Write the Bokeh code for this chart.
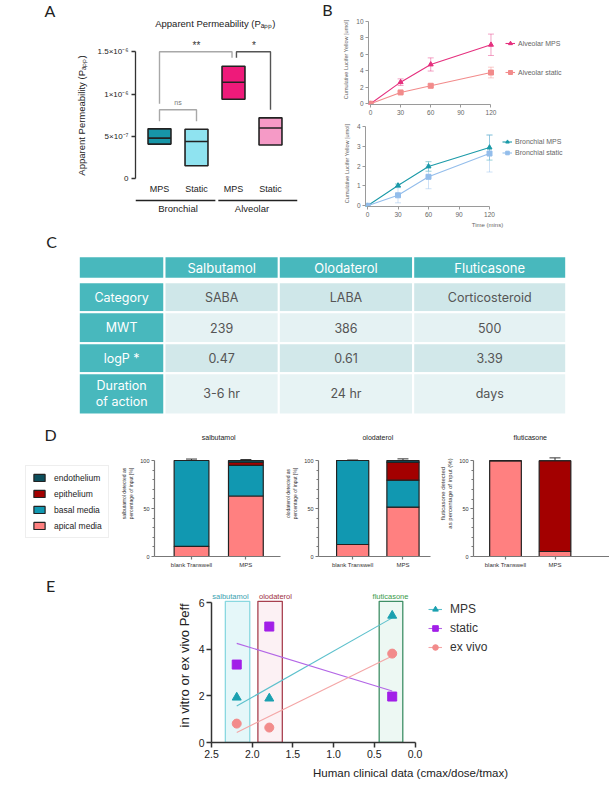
import numpy as np
from bokeh.plotting import figure
from bokeh.models import (Range1d, ColumnDataSource, FixedTicker, Legend,
                          LegendItem, Whisker, TeeHead, PrintfTickFormatter)
from bokeh.layouts import column, row
from bokeh.embed import file_html
from bokeh.resources import INLINE
from bokeh.core.properties import value

FONT = "Liberation Sans"
LETTER_FONT = "Lato"
TABLE_FONT = "Inter"

# ---------------- data ----------------
# A: apparent permeability, floating boxes (min / median / max)
a_condition = ["MPS", "Static", "MPS", "Static"]
a_groups = ["Bronchial", "Alveolar"]
a_low = [4.1e-7, 1.55e-7, 9.4e-7, 4.0e-7]
a_median = [4.8e-7, 4.4e-7, 11.4e-7, 6.0e-7]
a_high = [5.9e-7, 5.85e-7, 13.3e-7, 7.2e-7]
a_yticks = [0, 5e-7, 1e-6, 1.5e-6]
a_ytick_labels = ["0", "5×10⁻⁷", "1×10⁻⁶", "1.5×10⁻⁶"]

# B: cumulative Lucifer Yellow
b_time = [0, 30, 60, 120]
b_xticks = [0, 30, 60, 90, 120]
b_alv_mps = [0, 2.63, 4.78, 7.17]
b_alv_mps_err = [0.05, 0.4, 0.8, 1.3]
b_alv_static = [0, 1.38, 2.19, 3.8]
b_alv_static_err = [0.05, 0.1, 0.15, 0.65]
b_bro_mps = [0, 1.02, 1.98, 2.93]
b_bro_mps_err = [0.03, 0.08, 0.24, 0.63]
b_bro_static = [0, 0.53, 1.46, 2.63]
b_bro_static_err = [0.03, 0.38, 0.6, 0.93]

# C: table
c_drugs = ["Salbutamol", "Olodaterol", "Fluticasone"]
c_rows = ["Category", "MWT", "logP *", "Duration\nof action"]
c_category = ["SABA", "LABA", "Corticosteroid"]
c_mwt = [239, 386, 500]
c_logp = [0.47, 0.61, 3.39]
c_duration = ["3-6 hr", "24 hr", "days"]

# D: distribution (% of input)
d_conditions = ["blank Transwell", "MPS"]
d_layers = ["apical media", "basal media", "epithelium", "endothelium"]
salb_apical = [10.5, 63.0]
salb_basal = [89.5, 32.0]
salb_epi = [0.0, 3.0]
salb_endo = [0.0, 2.0]
salb_err = {"apical": [2.5, 5.0], "total": [1.5, 1.0]}
olod_apical = [12.5, 51.5]
olod_basal = [87.5, 28.0]
olod_epi = [0.0, 18.5]
olod_endo = [0.0, 2.0]
olod_err = {"apical": [2.0, 4.5], "basal": [0.0, 5.5], "total": [0.5, 1.7]}
flut_apical = [100.0, 5.2]
flut_basal = [0.0, 0.0]
flut_epi = [0.0, 94.8]
flut_endo = [0.0, 0.0]
flut_err = {"apical": [0.0, 3.0], "total": [0.0, 3.0]}

# E: correlation with clinical data
e_drugs = ["salbutamol", "olodaterol", "fluticasone"]
e_clinical = [2.19, 1.79, 0.28]
e_band_lo = [2.03, 1.63, 0.15]
e_band_hi = [2.33, 1.93, 0.44]
e_mps = [1.93, 1.89, 5.44]
e_static = [3.34, 4.97, 1.97]
e_exvivo = [0.81, 0.64, 3.81]


# ---------------- helpers ----------------
def make_fig(w, h, xr, yr, left, right, top, bottom, **kw):
    p = figure(width=w, height=h, x_range=xr, y_range=yr,
               output_backend="svg", toolbar_location=None,
               min_border_left=left, min_border_right=right,
               min_border_top=top, min_border_bottom=bottom, **kw)
    p.frame_align = False
    p.outline_line_color = None
    p.grid.visible = False
    p.border_fill_color = "white"
    p.background_fill_color = "white"
    return p


def style_axis(ax, line_color, label_color, size, tick_out=3, lw=1.0):
    ax.axis_line_color = line_color
    ax.axis_line_width = lw
    ax.major_tick_line_color = line_color
    ax.major_tick_line_width = lw
    ax.major_tick_out = tick_out
    ax.major_tick_in = 0
    ax.minor_tick_line_color = None
    ax.major_label_text_font = FONT
    ax.major_label_text_font_size = size
    ax.major_label_text_color = label_color
    ax.axis_label_text_font = FONT
    ax.axis_label_text_font_style = "normal"
    ax.axis_label_text_color = label_color


def letter_fig(w, h, txt, cx, cy):
    p = make_fig(w, h, Range1d(0, w), Range1d(h, 0), 0, 0, 0, 0,
                 x_axis_type=None, y_axis_type=None)
    p.text(x=[cx], y=[cy], text=[txt], text_font=value(LETTER_FONT),
           text_font_size="16px", text_color="#222222", text_align="center",
           text_baseline="middle")
    return p


# ---------------- A ----------------
ROW1_H = 230
S = 1e7
A_W, A_H = 240, ROW1_H
A_L, A_R, A_T, A_B = 75, 3, 12, 12
a_px = 37.0
a_pos = np.arange(4) + 0.5
a_x0 = 0.5 - 24 / a_px
a_x1 = a_x0 + (A_W - A_L - A_R) / a_px
a_ypx = 8.467
a_yend = 166.3 / a_ypx
a_ystart = a_yend - (A_H - A_T - A_B) / a_ypx
pA = make_fig(A_W, A_H, Range1d(a_x0, a_x1), Range1d(a_ystart, a_yend),
              A_L, A_R, A_T, A_B, x_axis_type=None)
ya = pA.yaxis[0]
style_axis(ya, "#333333", "#222222", "8px", tick_out=4, lw=1.3)
a_tick_vals = [int(round(t * S)) for t in a_yticks]
ya.ticker = FixedTicker(ticks=a_tick_vals)
ya.major_label_overrides = dict(zip(a_tick_vals, a_ytick_labels))
ya.bounds = (0, a_tick_vals[-1])
ya.axis_label = "Apparent Permeability (Pₐₚₚ)"
ya.axis_label_text_font_size = "9.5px"
ya.axis_label_standoff = 8
ya.major_label_standoff = 3

a_colors = ["#1796a8", "#8fe3f0", "#ee1a7a", "#f59ac6"]
hw = 0.31
srcA = ColumnDataSource(dict(l=a_pos - hw, r=a_pos + hw, lo=np.array(a_low) * S,
                             mid=np.array(a_median) * S, hi=np.array(a_high) * S,
                             color=a_colors))
pA.quad(left="l", right="r", bottom="lo", top="hi", fill_color="color",
        line_color="#222222", line_width=1.6, source=srcA)
pA.segment(x0="l", x1="r", y0="mid", y1="mid", line_color="#222222",
           line_width=1.6, source=srcA)

pA.text(x=a_pos, y=[-1.26] * 4, text=a_condition, text_font=value(FONT),
        text_font_size="9px", text_align="center", text_baseline="middle",
        text_color="#222222")
pA.segment(x0=[a_x0, 2.05 + 0.04], x1=[2.05 - 0.04, a_x1], y0=[-2.56] * 2,
           y1=[-2.56] * 2, line_color="#222222", line_width=1.5)
pA.text(x=[1.0, 3.0], y=[-3.51] * 2, text=a_groups, text_font=value(FONT),
        text_font_size="9.5px", text_align="center", text_baseline="middle",
        text_color="#222222")
pA.text(x=[2.01], y=[18.34], text=["Apparent Permeability (Pₐₚₚ)"],
        text_font=value(FONT), text_font_size="9.5px", text_align="center",
        text_baseline="middle", text_color="#222222")
# significance brackets
pA.multi_line(xs=[[0.5, 0.5, 1.5, 1.5], [0.5, 0.5, 2.46, 2.46]],
              ys=[[6.8, 8.15, 8.15, 6.8], [8.86, 15, 15, 14.3]],
              line_color="#a8a8a8", line_width=1.4)
pA.multi_line(xs=[[2.58, 2.58, 3.5, 3.5]], ys=[[14.3, 15, 15, 8.15]],
              line_color="#555555", line_width=1.4)
pA.text(x=[1.5, 3.05], y=[15.8, 15.8], text=["**", "*"], text_font=value(FONT),
        text_font_size="10px", text_align="center", text_baseline="middle",
        text_color="#333333")
pA.text(x=[1.0], y=[9.05], text=["ns"], text_font=value(FONT),
        text_font_size="7px", text_align="center", text_baseline="middle",
        text_color="#777777")
pLA = letter_fig(60, ROW1_H, "A", 49.5, 9.5)


# ---------------- B ----------------
B_W = 269
B_L = 25
b_xpx = 1.0167
b_x0 = -2 / b_xpx
b_x1 = b_x0 + (B_W - B_L) / b_xpx


def b_panel(h, top, bottom, ypx, yticks, series, legend_loc, legend_spacing,
            legend_h, xlabel=None):
    ys0 = -0.7 / ypx
    ys1 = ys0 + (h - top - bottom) / ypx
    p = make_fig(B_W, h, Range1d(b_x0, b_x1), Range1d(ys0, ys1), B_L, 0, top, bottom)
    xa, yax = p.xaxis[0], p.yaxis[0]
    for ax in (xa, yax):
        style_axis(ax, "#9a9a9a", "#666666", "6.5px", tick_out=3, lw=1.0)
        ax.major_label_standoff = 2
    xa.ticker = FixedTicker(ticks=b_xticks)
    xa.bounds = (0, b_xticks[-1])
    yax.ticker = FixedTicker(ticks=yticks)
    yax.bounds = (0, yticks[-1])
    yax.axis_label = "Cumulative Lucifer Yellow [umol]"
    yax.axis_label_text_font_size = "5.5px"
    yax.axis_label_standoff = 4
    if xlabel:
        xa.axis_label = xlabel
        xa.axis_label_text_font_size = "6px"
        xa.axis_label_standoff = 2
    items = []
    for name, vals, err, color, marker in series:
        v = np.array(vals)
        e = np.array(err)
        src = ColumnDataSource(dict(t=b_time, v=v, lo=v - e, hi=v + e))
        p.add_layout(Whisker(source=src, base="t", lower="lo", upper="hi",
                             line_color=color, line_alpha=0.45, line_width=1,
                             upper_head=TeeHead(size=6, line_color=color, line_alpha=0.45),
                             lower_head=TeeHead(size=6, line_color=color, line_alpha=0.45)))
        lr = p.line("t", "v", source=src, line_color=color, line_width=1.1)
        sr = p.scatter("t", "v", source=src, marker=marker, size=5,
                       fill_color=color, line_color=color)
        items.append(LegendItem(label=name, renderers=[lr, sr]))
    leg = Legend(items=items, location=legend_loc, padding=0, margin=0,
                 spacing=legend_spacing, glyph_width=10, glyph_height=legend_h,
                 label_height=legend_h, label_standoff=3, border_line_color=None,
                 background_fill_alpha=0, label_text_font=FONT,
                 label_text_font_size="7px", label_text_color="#666666")
    p.add_layout(leg)
    return p


pB1 = b_panel(118, 14, 14, 8.23, [0, 2, 4, 6, 8, 10],
              [("Alveolar MPS", b_alv_mps, b_alv_mps_err, "#e5307e", "triangle"),
               ("Alveolar static", b_alv_static, b_alv_static_err, "#f28b8b", "square")],
              (137, 27), 19, 10)
pB2 = b_panel(ROW1_H - 118, 2, 21, 20.58, [0, 1, 2, 3, 4],
              [("Bronchial MPS", b_bro_mps, b_bro_mps_err, "#1b9aa8", "triangle"),
               ("Bronchial static", b_bro_static, b_bro_static_err, "#93bdeb", "square")],
              (137, 49), 2, 9, xlabel="Time (mins)")
pLB = letter_fig(40, ROW1_H, "B", 27, 8.5)


# ---------------- C ----------------
C_W, C_H = 609, 192
C_TOP = ROW1_H
pC = make_fig(C_W, C_H, Range1d(0, C_W), Range1d(C_H, 0), 0, 0, 0, 0,
              x_axis_type=None, y_axis_type=None)
col_edges = [78.3, 164, 278.3, 412.7, 565.7]
head_edges = [255.7 - C_TOP, 278.3 - C_TOP]
row_edges = [r - C_TOP for r in (281.7, 311.7, 342.7, 372.7, 414)]
TEAL = "#48b8bd"
row_fills = ["#cfe7e9", "#e5f2f3", "#d2e8ea", "#e7f3f4"]
ql, qr, qt, qb, qc = [], [], [], [], []
for j in range(4):
    ql.append(col_edges[j]); qr.append(col_edges[j + 1])
    qt.append(head_edges[0]); qb.append(head_edges[1]); qc.append(TEAL)
for i in range(4):
    for j in range(4):
        ql.append(col_edges[j]); qr.append(col_edges[j + 1])
        qt.append(row_edges[i]); qb.append(row_edges[i + 1])
        qc.append(TEAL if j == 0 else row_fills[i])
pC.quad(left=ql, right=qr, top=qt, bottom=qb, fill_color=qc, line_color="white",
        line_width=2)
col_cent = [(col_edges[j] + col_edges[j + 1]) / 2 for j in range(4)]
row_cent = [(row_edges[i] + row_edges[i + 1]) / 2 for i in range(4)]
pC.text(x=col_cent[1:], y=[(head_edges[0] + head_edges[1]) / 2] * 3, text=c_drugs,
        text_font=value(TABLE_FONT), text_font_size="13px", text_color="white",
        text_align="center", text_baseline="middle")
pC.text(x=[col_cent[0]] * 4, y=row_cent, text=c_rows, text_font=value(TABLE_FONT),
        text_font_size="12.5px", text_color="white", text_align="center",
        text_baseline="middle", text_line_height=1.05)
body = [c_category, [str(v) for v in c_mwt], [f"{v:.2f}" for v in c_logp], c_duration]
bx, by, bt = [], [], []
for i, vals in enumerate(body):
    for j, v in enumerate(vals):
        bx.append(col_cent[j + 1]); by.append(row_cent[i]); bt.append(v)
pC.text(x=bx, y=by, text=bt, text_font=value(TABLE_FONT), text_font_size="12.5px",
        text_color="#555555", text_align="center", text_baseline="middle")
pC.text(x=[51], y=[240.5 - C_TOP], text=["C"], text_font=value(LETTER_FONT),
        text_font_size="16px", text_color="#222222", text_align="center",
        text_baseline="middle")


# ---------------- D ----------------
D_H = 148
layer_colors = ["#ff8080", "#1198b1", "#a30000", "#0c4e5c"]
pD0 = letter_fig(118, D_H, "D", 50, 12)
leg_items = []
for lab, col in zip(d_layers, layer_colors):
    r = pD0.vbar(x=[np.nan], top=[np.nan], width=1, fill_color=col,
                 line_color="#222222", line_width=1.2)
    leg_items.append(LegendItem(label=lab, renderers=[r]))
legD = Legend(items=leg_items[::-1], location=(25, 32), padding=6, margin=0,
              spacing=5, glyph_width=14, glyph_height=9, label_height=11,
              label_standoff=8, border_line_color="#dddddd", border_line_width=1,
              background_fill_color="white", label_text_font=FONT,
              label_text_font_size="8.5px", label_text_color="#222222")
pD0.add_layout(legD)


def d_panel(w, left, right, bottom, xpx, x_first_px, ypx, title, ylabel, ylabel_size,
            apical, basal, epi, endo, errs):
    top = 8
    fw = w - left - right
    fh = D_H - top - bottom
    x0 = -x_first_px / xpx
    p = make_fig(w, D_H, Range1d(x0, x0 + fw / xpx), Range1d(0, fh / ypx),
                 left, right, top, bottom)
    xa, yax = p.xaxis[0], p.yaxis[0]
    for ax in (xa, yax):
        style_axis(ax, "#777777", "#333333", "5.5px", tick_out=3, lw=1.2)
        ax.major_label_standoff = 2
    xa.ticker = FixedTicker(ticks=[0, 1])
    xa.major_label_overrides = {0: d_conditions[0], 1: d_conditions[1]}
    xa.major_label_text_font_size = "6px"
    yax.ticker = FixedTicker(ticks=[0, 50, 100], minor_ticks=[10, 20, 30, 40, 60, 70, 80, 90])
    yax.minor_tick_line_color = "#777777"
    yax.minor_tick_out = 2
    yax.minor_tick_in = 0
    yax.bounds = (0, 100)
    yax.axis_label = ylabel
    yax.axis_label_text_font_size = ylabel_size
    yax.axis_label_standoff = 3
    src = ColumnDataSource(dict(x=[0, 1], apical=apical, basal=basal, epi=epi, endo=endo))
    p.vbar_stack(["apical", "basal", "epi", "endo"], x="x", width=0.64,
                 color=layer_colors, line_color="#222222", line_width=1.2, source=src)
    cum = {"apical": np.array(apical),
           "basal": np.array(apical) + np.array(basal),
           "total": np.array(apical) + np.array(basal) + np.array(epi) + np.array(endo)}
    for k, e in errs.items():
        e = np.array(e)
        m = e > 0
        if not m.any():
            continue
        s = ColumnDataSource(dict(x=np.array([0, 1])[m], lo=cum[k][m], hi=(cum[k] + e)[m]))
        p.add_layout(Whisker(source=s, base="x", lower="lo", upper="hi",
                             line_color="#333333", line_width=1,
                             upper_head=TeeHead(size=11, line_color="#333333", line_width=1),
                             lower_head=None))
    p.text(x=[0.5], y=[(D_H - bottom - (437 - 422)) / ypx], text=[title],
           text_font=value(FONT), text_font_size="7px", text_align="center",
           text_baseline="middle", text_color="#222222")
    return p


pD1 = d_panel(164, 31, 2, 14, 56.5, 187.5 - 149, 0.96, "salbutamol",
              "salbutamol detected as\npercentage of input [%]", "5px",
              salb_apical, salb_basal, salb_epi, salb_endo, salb_err)
pD2 = d_panel(150, 30, 2, 14, 53.0, 348 - 312, 0.96, "olodaterol",
              "olodaterol detected as\npercentage of input [%]", "5px",
              olod_apical, olod_basal, olod_epi, olod_endo, olod_err)
pD3 = d_panel(177, 41, 0, 13, 49.5, 505 - 473, 0.965, "fluticasone",
              "fluticasone detected\nas percentage of input (%)", "6px",
              flut_apical, flut_basal, flut_epi, flut_endo, flut_err)


# ---------------- E ----------------
E_W, E_H = 459, 230
E_L, E_T, E_B = 61, 18, 58
e_xpx = 81.4
e_ypx = 23.33
pE = make_fig(E_W, E_H, Range1d(2.5, 2.5 - (E_W - E_L) / e_xpx),
              Range1d(0, (E_H - E_T - E_B) / e_ypx), E_L, 0, E_T, E_B)
xa, yax = pE.xaxis[0], pE.yaxis[0]
for ax in (xa, yax):
    style_axis(ax, "#333333", "#222222", "10.5px", tick_out=5, lw=1.5)
    ax.major_label_standoff = 2
xa.ticker = FixedTicker(ticks=[0, 0.5, 1.0, 1.5, 2.0, 2.5])
xa.formatter = PrintfTickFormatter(format="%.1f")
xa.bounds = (0, 2.5)
xa.axis_label = "Human clinical data (cmax/dose/tmax)"
xa.axis_label_text_font_size = "11.5px"
xa.axis_label_standoff = 6
yax.ticker = FixedTicker(ticks=[0, 2, 4, 6])
yax.bounds = (0, 6)
yax.axis_label = "in vitro or ex vivo Peff"
yax.axis_label_text_font_size = "13px"
yax.axis_label_standoff = 4

band_fill = ["#dff5f7", "#fbeef1", "#e9f6f0"]
band_line = ["#8ad8e0", "#a8404f", "#3f8f66"]
band_text = ["#3a9fb0", "#a0303f", "#3a9a4a"]
pE.quad(left=e_band_lo, right=e_band_hi, bottom=0, top=6.05, fill_color=band_fill,
        fill_alpha=0.8, line_color=band_line, line_width=1.3)
# first band label starts at the y axis, others centred on their bands
pE.text(x=[2.49], y=[6.26], text=e_drugs[:1], text_color=band_text[0],
        text_font=value(FONT), text_font_size="7.5px", text_align="left",
        text_baseline="middle")
pE.text(x=[1.714, 0.301], y=[6.26] * 2, text=e_drugs[1:], text_color=band_text[1:],
        text_font=value(FONT), text_font_size="7.5px", text_align="center",
        text_baseline="middle")

e_series = [("MPS", e_mps, "#1aa0b0", "#5cc0cc", "triangle"),
            ("static", e_static, "#a21fe8", "#b366e6", "square"),
            ("ex vivo", e_exvivo, "#f28b8b", "#f4a6a6", "circle")]
e_items = []
xs = np.array(e_clinical)
x_ends = np.array([xs.max(), xs.min()])
for name, vals, col, lcol, marker in e_series:
    k, b = np.polyfit(xs, np.array(vals), 1)
    lr = pE.line(x_ends, k * x_ends + b, line_color=lcol, line_width=1.1)
    sr = pE.scatter(xs, vals, marker=marker, size=9, fill_color=col, line_color=col)
    e_items.append(LegendItem(label=name, renderers=[lr, sr]))
legE = Legend(items=e_items, location=(217, 87), padding=0, margin=0, spacing=3,
              glyph_width=14, glyph_height=16, label_height=16, label_standoff=8,
              border_line_color=None, background_fill_alpha=0, label_text_font=FONT,
              label_text_font_size="12px", label_text_color="#333333")
pE.add_layout(legE)
pLE = letter_fig(150, E_H, "E", 50, 15)


# ---------------- layout ----------------
layout = column(row(pLA, pA, pLB, column(pB1, pB2)),
                pC,
                row(pD0, pD1, pD2, pD3),
                row(pLE, pE))
open("out.html", "w").write(file_html(layout, INLINE))
